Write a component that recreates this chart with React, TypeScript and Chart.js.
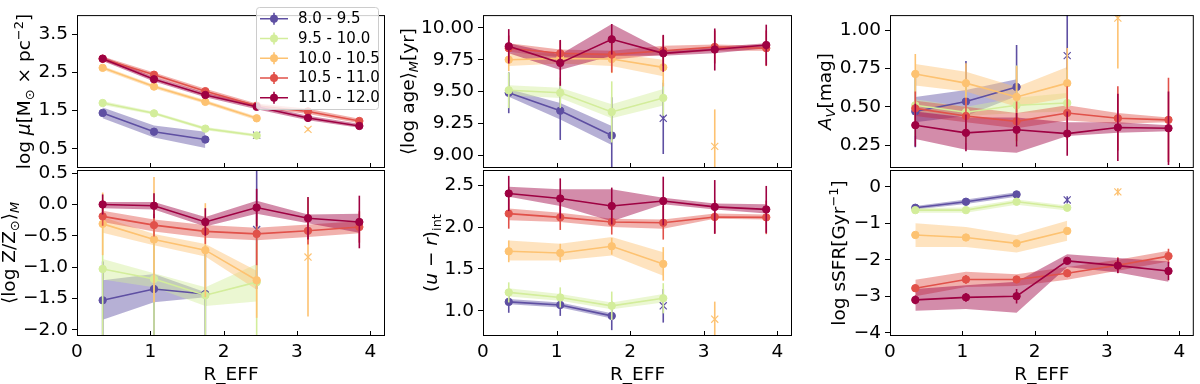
import React, { useEffect, useRef } from 'react';
import { Chart, registerables } from 'chart.js';

Chart.register(...registerables);

// ---------------- data ----------------
const R_BINS = [0.35, 1.05, 1.75, 2.45, 3.15, 3.85];
const X_TICKS = [0, 1, 2, 3, 4];
const MASS_BINS = ['8.0 - 9.5', '9.5 - 10.0', '10.0 - 10.5', '10.5 - 11.0', '11.0 - 12.0'];
const COLORS = ['#5e4fa2', '#d3ed9b', '#fdc271', '#e1514a', '#9e0142'];

// log mu
const muTicks = [0.5, 1.5, 2.5, 3.5];
const muVal = [
  [1.44, 0.95, 0.745],
  [1.70, 1.43, 1.03, 0.85],
  [2.62, 2.13, 1.73, 1.30],
  [2.86, 2.44, 2.01, 1.63, 1.48, 1.23],
  [2.86, 2.32, 1.91, 1.60, 1.31, 1.10],
];
const muErr = [
  [0.05, 0.05, 0.06],
  [0.04, 0.04, 0.04, 0.05],
  [0.04, 0.04, 0.04, 0.05],
  [0.04, 0.04, 0.04, 0.05, 0.06, 0.05],
  [0.04, 0.05, 0.05, 0.05, 0.05, 0.05],
];
const muLo = [
  [1.30, 0.80, 0.52],
  [1.65, 1.39, 0.99, 0.81],
  [2.57, 2.08, 1.68, 1.25],
  [2.80, 2.38, 1.95, 1.57, 1.41, 1.17],
  [2.80, 2.26, 1.85, 1.54, 1.25, 1.05],
];
const muHi = [
  [1.58, 1.11, 0.95],
  [1.75, 1.47, 1.07, 0.89],
  [2.67, 2.18, 1.78, 1.35],
  [2.92, 2.50, 2.07, 1.69, 1.55, 1.29],
  [2.92, 2.38, 1.97, 1.66, 1.37, 1.16],
];
const muOut = [[3, 0.86, 0.03], null, [4, 1.01, 0.05], null, null];

// <log age>
const ageTicks = [9.0, 9.25, 9.5, 9.75, 10.0];
const ageVal = [
  [9.49, 9.35, 9.155],
  [9.51, 9.49, 9.34, 9.45],
  [9.75, 9.76, 9.755, 9.69],
  [9.84, 9.80, 9.79, 9.82, 9.85, 9.84],
  [9.855, 9.725, 9.91, 9.80, 9.83, 9.865],
];
const ageErr = [
  [0.16, 0.23, 0.30],
  [0.14, 0.12, 0.24, 0.14],
  [0.09, 0.07, 0.11, 0.15],
  [0.10, 0.10, 0.14, 0.12, 0.13, 0.14],
  [0.135, 0.18, 0.12, 0.145, 0.165, 0.16],
];
const ageLo = [
  [9.46, 9.28, 9.08],
  [9.47, 9.45, 9.29, 9.39],
  [9.70, 9.72, 9.70, 9.62],
  [9.81, 9.77, 9.75, 9.79, 9.82, 9.82],
  [9.80, 9.67, 9.78, 9.78, 9.80, 9.84],
];
const ageHi = [
  [9.52, 9.41, 9.23],
  [9.55, 9.53, 9.40, 9.52],
  [9.80, 9.80, 9.80, 9.75],
  [9.88, 9.83, 9.82, 9.86, 9.87, 9.86],
  [9.88, 9.79, 10.03, 9.82, 9.85, 9.88],
];
const ageOut = [[3, 9.29, 0.28], null, [4, 9.07, 0.29], null, null];

// A_V
const avTicks = [0.25, 0.5, 0.75, 1.0];
const avVal = [
  [0.47, 0.535, 0.63],
  [0.51, 0.465, 0.51, 0.525],
  [0.715, 0.655, 0.565, 0.655],
  [0.49, 0.44, 0.405, 0.46, 0.425, 0.415],
  [0.38, 0.33, 0.35, 0.325, 0.365, 0.36],
];
const avErr = [
  [0.235, 0.265, 0.275],
  [0.20, 0.20, 0.26, 0.22],
  [0.13, 0.13, 0.20, 0.23],
  [0.11, 0.12, 0.13, 0.175, 0.21, 0.275],
  [0.14, 0.12, 0.11, 0.145, 0.22, 0.24],
];
const avLo = [
  [0.40, 0.44, 0.57],
  [0.47, 0.44, 0.46, 0.47],
  [0.64, 0.60, 0.50, 0.56],
  [0.44, 0.40, 0.36, 0.41, 0.39, 0.40],
  [0.29, 0.22, 0.20, 0.31, 0.33, 0.34],
];
const avHi = [
  [0.565, 0.61, 0.68],
  [0.55, 0.50, 0.56, 0.59],
  [0.78, 0.73, 0.63, 0.76],
  [0.54, 0.50, 0.46, 0.51, 0.46, 0.43],
  [0.47, 0.43, 0.43, 0.40, 0.40, 0.38],
];
const avOut = [[3, 0.835, 0.30], null, [4, 1.08, 0.33], null, null];

// <log Z/Zsun>
const zTicks = [-2.0, -1.5, -1.0, -0.5, 0.0, 0.5];
const zVal = [
  [-1.53, -1.35, -1.43],
  [-1.03, -1.19, -1.45, -1.24],
  [-0.31, -0.56, -0.73, -1.21],
  [-0.19, -0.33, -0.43, -0.47, -0.42, -0.36],
  [0.0, -0.02, -0.28, -0.05, -0.22, -0.28],
];
const zErr = [
  [0.62, 0.8, 0.7],
  [1.1, 1.0, 0.8, 1.0],
  [0.5, 1.0, 0.75, 0.6],
  [0.15, 0.18, 0.2, 0.5, 0.22, 0.25],
  [0.16, 0.2, 0.22, 0.3, 0.34, 0.42],
];
const zLo = [
  [-1.84, -1.56, -1.48],
  [-1.20, -1.32, -1.62, -1.55],
  [-0.45, -0.65, -0.83, -1.36],
  [-0.28, -0.43, -0.53, -0.57, -0.52, -0.46],
  [-0.06, -0.08, -0.35, -0.15, -0.30, -0.45],
];
const zHi = [
  [-1.21, -1.11, -1.40],
  [-0.87, -1.10, -1.32, -0.95],
  [-0.20, -0.47, -0.63, -1.06],
  [-0.10, -0.24, -0.33, -0.37, -0.32, -0.27],
  [0.04, 0.04, -0.20, 0.06, -0.16, -0.15],
];
const zOut = [[3, -0.40, 0.95], null, [4, -0.84, 0.95], null, null];

// (u - r)_int
const urTicks = [1.0, 1.5, 2.0, 2.5];
const urVal = [
  [1.107, 1.07, 0.94],
  [1.22, 1.16, 1.06, 1.15],
  [1.71, 1.69, 1.77, 1.56],
  [2.16, 2.115, 2.06, 2.05, 2.12, 2.115],
  [2.40, 2.34, 2.25, 2.31, 2.24, 2.21],
];
const urErr = [
  [0.13, 0.13, 0.17],
  [0.12, 0.12, 0.17, 0.18],
  [0.13, 0.11, 0.10, 0.2],
  [0.18, 0.15, 0.15, 0.2, 0.2, 0.2],
  [0.21, 0.24, 0.22, 0.29, 0.32, 0.28],
];
const urLo = [
  [1.08, 1.04, 0.91],
  [1.17, 1.12, 1.02, 1.10],
  [1.60, 1.60, 1.66, 1.42],
  [2.08, 2.06, 2.00, 1.98, 2.10, 2.09],
  [2.36, 2.25, 2.07, 2.27, 2.21, 2.16],
];
const urHi = [
  [1.14, 1.10, 0.97],
  [1.27, 1.20, 1.10, 1.20],
  [1.84, 1.80, 1.88, 1.70],
  [2.22, 2.17, 2.10, 2.09, 2.16, 2.15],
  [2.48, 2.45, 2.45, 2.35, 2.28, 2.27],
];
const urOut = [[3, 1.06, 0.2], null, [4, 0.90, 0.21], null, null];

// log sSFR
const sTicks = [-4, -3, -2, -1, 0];
const sVal = [
  [-0.575, -0.41, -0.21],
  [-0.64, -0.64, -0.41, -0.575],
  [-1.32, -1.39, -1.55, -1.21],
  [-2.78, -2.54, -2.54, -2.37, -2.15, -1.90],
  [-3.10, -3.03, -3.0, -2.03, -2.16, -2.31],
];
const sErr = [
  [0.03, 0.05, 0.05],
  [0.04, 0.04, 0.06, 0.05],
  [0.05, 0.05, 0.06, 0.06],
  [0.1, 0.12, 0.08, 0.1, 0.22, 0.2],
  [0.12, 0.12, 0.2, 0.08, 0.2, 0.25],
];
const sLo = [
  [-0.62, -0.47, -0.27],
  [-0.71, -0.71, -0.49, -0.65],
  [-1.65, -1.65, -1.80, -1.48],
  [-3.0, -2.75, -2.72, -2.55, -2.30, -2.05],
  [-3.40, -3.35, -3.45, -2.20, -2.35, -2.60],
];
const sHi = [
  [-0.53, -0.35, -0.15],
  [-0.58, -0.57, -0.35, -0.51],
  [-1.0, -1.10, -1.33, -0.93],
  [-2.55, -2.33, -2.40, -2.20, -2.00, -1.75],
  [-2.80, -2.70, -2.60, -1.85, -1.95, -2.05],
];
const sOut = [[3, -0.36, 0.1], null, [4, -0.14, 0.1], null, null];

// ---------------- layout / style ----------------
const FONT = "'DejaVu Sans', 'Liberation Sans', sans-serif";
const TICK_SIZE = 18.5;
const TITLE_SIZE = 18.5;
const LEGEND_SIZE = 15;
const W = 1200;
const H = 384;

type Seg = { t: string; i?: boolean; sub?: boolean; sup?: boolean };

const PANELS = [
  {
    val: muVal, err: muErr, lo: muLo, hi: muHi, out: muOut, ticks: muTicks, dec: 1,
    yMin: 0, yMax: 4, left: 77, right: 385, top: 1, bottom: 168, titleX: 24, xLabels: false, legend: true,
    title: [{ t: 'log ' }, { t: 'μ', i: true }, { t: '[M' }, { t: '⊙', sub: true }, { t: ' × pc' }, { t: '−2', sup: true }, { t: ']' }] as Seg[],
  },
  {
    val: ageVal, err: ageErr, lo: ageLo, hi: ageHi, out: ageOut, ticks: ageTicks, dec: 2,
    yMin: 8.9, yMax: 10.1, left: 483, right: 792, top: 1, bottom: 168, titleX: 408, xLabels: false, legend: false,
    title: [{ t: '⟨log age⟩' }, { t: 'M', i: true, sub: true }, { t: '[yr]' }] as Seg[],
  },
  {
    val: avVal, err: avErr, lo: avLo, hi: avHi, out: avOut, ticks: avTicks, dec: 2,
    yMin: 0.1, yMax: 1.1, left: 890, right: 1197, top: 1, bottom: 168, titleX: 825, xLabels: false, legend: false,
    title: [{ t: 'A', i: true }, { t: 'V', i: true, sub: true }, { t: '[mag]' }] as Seg[],
  },
  {
    val: zVal, err: zErr, lo: zLo, hi: zHi, out: zOut, ticks: zTicks, dec: 1,
    yMin: -2.1, yMax: 0.55, left: 77, right: 385, top: 170, bottom: 336, titleX: 9, xLabels: true, legend: false,
    title: [{ t: '⟨log Z/Z' }, { t: '⊙', sub: true }, { t: '⟩' }, { t: 'M', i: true, sub: true }] as Seg[],
  },
  {
    val: urVal, err: urErr, lo: urLo, hi: urHi, out: urOut, ticks: urTicks, dec: 1,
    yMin: 0.7, yMax: 2.68, left: 483, right: 792, top: 170, bottom: 336, titleX: 431, xLabels: true, legend: false,
    title: [{ t: '(' }, { t: 'u', i: true }, { t: ' − ' }, { t: 'r', i: true }, { t: ')' }, { t: 'int', sub: true }] as Seg[],
  },
  {
    val: sVal, err: sErr, lo: sLo, hi: sHi, out: sOut, ticks: sTicks, dec: 0,
    yMin: -4.09, yMax: 0.46, left: 890, right: 1197, top: 170, bottom: 336, titleX: 839, xLabels: true, legend: false,
    title: [{ t: 'log sSFR[Gyr' }, { t: '−1', sup: true }, { t: ']' }] as Seg[],
  },
];

function rgba(hex: string, a: number) {
  const n = parseInt(hex.slice(1), 16);
  return `rgba(${(n >> 16) & 255},${(n >> 8) & 255},${n & 255},${a})`;
}

function fmt(v: number, d: number) {
  const s = Math.abs(v).toFixed(d);
  return (v < -1e-9 ? '\u2212' : '') + s;
}

function drawRich(ctx: CanvasRenderingContext2D, segs: Seg[], x: number, y: number, size: number) {
  ctx.save();
  ctx.translate(x, y);
  ctx.rotate(-Math.PI / 2);
  ctx.fillStyle = '#000';
  ctx.textBaseline = 'alphabetic';
  ctx.textAlign = 'left';
  const parts = segs.map((s) => {
    const sz = s.sub || s.sup ? size * 0.7 : size;
    const font = `${s.i ? 'italic ' : ''}${sz}px ${FONT}`;
    ctx.font = font;
    const w = ctx.measureText(s.t).width;
    const dy = s.sub ? size * 0.22 : s.sup ? -size * 0.4 : 0;
    return { s, font, w, dy };
  });
  const total = parts.reduce((a, p) => a + p.w, 0);
  let cx = -total / 2;
  const base = size * 0.32;
  for (const p of parts) {
    ctx.font = p.font;
    ctx.fillText(p.s.t, cx, base + p.dy);
    cx += p.w;
  }
  ctx.restore();
}

const errorBarPlugin = {
  id: 'errorBars',
  beforeDatasetDraw(chart: any, args: any) {
    const ds = chart.data.datasets[args.index];
    if (!ds.errorBars) return;
    const { ctx, chartArea, scales } = chart;
    ctx.save();
    ctx.beginPath();
    ctx.rect(chartArea.left, chartArea.top, chartArea.right - chartArea.left, chartArea.bottom - chartArea.top);
    ctx.clip();
    ctx.strokeStyle = ds.borderColor;
    ctx.lineWidth = 1.6;
    ds.data.forEach((p: any, i: number) => {
      const e = ds.errorBars[i];
      const x = scales.x.getPixelForValue(p.x);
      ctx.beginPath();
      ctx.moveTo(x, scales.y.getPixelForValue(p.y - e));
      ctx.lineTo(x, scales.y.getPixelForValue(p.y + e));
      ctx.stroke();
    });
    ctx.restore();
  },
};

function makeDecoPlugin(cfg: any) {
  return {
    id: 'deco',
    afterDraw(chart: any) {
      const { ctx, chartArea: ca, scales } = chart;
      ctx.save();
      // frame
      ctx.strokeStyle = '#000';
      ctx.lineWidth = 1;
      ctx.strokeRect(ca.left + 0.5, ca.top + 0.5, ca.right - ca.left - 1, ca.bottom - ca.top - 1);
      // inward x ticks
      ctx.beginPath();
      X_TICKS.forEach((v) => {
        const x = Math.round(scales.x.getPixelForValue(v)) + 0.5;
        ctx.moveTo(x, ca.bottom);
        ctx.lineTo(x, ca.bottom - 5);
      });
      ctx.stroke();
      // y title
      drawRich(ctx, cfg.title, cfg.titleX, (ca.top + ca.bottom) / 2, TITLE_SIZE);
      // x title
      if (cfg.xLabels) {
        ctx.fillStyle = '#000';
        ctx.font = `${TITLE_SIZE}px ${FONT}`;
        ctx.textAlign = 'center';
        ctx.textBaseline = 'middle';
        ctx.fillText('R_EFF', (ca.left + ca.right) / 2, 375);
      }
      // legend
      if (cfg.legend) {
        const lx = 256.5, ly = 7.5, lw = 122, lh = 102, r = 3;
        ctx.beginPath();
        ctx.moveTo(lx + r, ly);
        ctx.arcTo(lx + lw, ly, lx + lw, ly + lh, r);
        ctx.arcTo(lx + lw, ly + lh, lx, ly + lh, r);
        ctx.arcTo(lx, ly + lh, lx, ly, r);
        ctx.arcTo(lx, ly, lx + lw, ly, r);
        ctx.closePath();
        ctx.fillStyle = 'rgba(255,255,255,0.8)';
        ctx.fill();
        ctx.strokeStyle = '#cccccc';
        ctx.lineWidth = 1;
        ctx.stroke();
        MASS_BINS.forEach((lab, s) => {
          const y = 18.8 + s * 19.75;
          const col = COLORS[s];
          ctx.strokeStyle = col;
          ctx.lineWidth = 1.6;
          ctx.beginPath();
          ctx.moveTo(260, y);
          ctx.lineTo(288, y);
          ctx.moveTo(274, y - 6);
          ctx.lineTo(274, y + 6);
          ctx.stroke();
          ctx.fillStyle = col;
          ctx.beginPath();
          ctx.arc(274, y, 4, 0, Math.PI * 2);
          ctx.fill();
          ctx.fillStyle = '#000';
          ctx.font = `${LEGEND_SIZE}px ${FONT}`;
          ctx.textAlign = 'left';
          ctx.textBaseline = 'middle';
          ctx.fillText(lab, 298, y + 0.5);
        });
      }
      ctx.restore();
    },
  };
}

function buildConfig(cfg: any): any {
  const datasets: any[] = [];
  cfg.val.forEach((vals: number[], s: number) => {
    const col = COLORS[s];
    datasets.push({
      label: '_lo' + s,
      data: cfg.lo[s].map((v: number, i: number) => ({ x: R_BINS[i], y: v })),
      borderWidth: 0, borderColor: 'transparent', pointRadius: 0, fill: false, order: 200 - 2 * s,
    });
    datasets.push({
      label: '_hi' + s,
      data: cfg.hi[s].map((v: number, i: number) => ({ x: R_BINS[i], y: v })),
      borderWidth: 0, borderColor: 'transparent', pointRadius: 0, fill: '-1',
      backgroundColor: rgba(col, 0.45), order: 199 - 2 * s,
    });
  });
  cfg.val.forEach((vals: number[], s: number) => {
    const col = COLORS[s];
    datasets.push({
      label: MASS_BINS[s],
      data: vals.map((v, i) => ({ x: R_BINS[i], y: v })),
      borderColor: col, backgroundColor: col, borderWidth: 1.6,
      pointRadius: 3.7, pointBorderWidth: 1, pointBackgroundColor: col, pointBorderColor: col,
      fill: false, tension: 0, order: 50 - 2 * s, errorBars: cfg.err[s],
    });
    const o = cfg.out[s];
    if (o) {
      datasets.push({
        label: '_out' + s,
        data: [{ x: R_BINS[o[0]], y: o[1] }],
        showLine: false, pointStyle: 'crossRot', pointRadius: 5, pointBorderWidth: 1.2,
        pointBorderColor: col, pointBackgroundColor: col, borderColor: col, backgroundColor: col,
        fill: false, order: 49 - 2 * s, errorBars: [o[2]],
      });
    }
  });

  return {
    type: 'line',
    data: { datasets },
    plugins: [errorBarPlugin, makeDecoPlugin(cfg)],
    options: {
      responsive: false,
      animation: false,
      devicePixelRatio: 1,
      events: [],
      layout: {
        padding: {
          left: 0,
          top: cfg.top,
          right: W - cfg.right,
          bottom: cfg.xLabels ? 0 : H - cfg.bottom,
        },
      },
      plugins: { legend: { display: false }, tooltip: { enabled: false } },
      scales: {
        x: {
          type: 'linear',
          position: 'bottom',
          min: 0,
          max: 4.2,
          afterFit: (s: any) => { s.height = cfg.xLabels ? H - cfg.bottom : 0; },
          afterBuildTicks: (s: any) => { s.ticks = X_TICKS.map((v) => ({ value: v })); },
          grid: { display: false, drawTicks: false },
          border: { display: false },
          ticks: {
            display: cfg.xLabels,
            autoSkip: false,
            maxRotation: 0,
            padding: 5,
            color: '#000',
            font: { family: FONT, size: TICK_SIZE },
            callback: (v: any) => String(v),
          },
        },
        y: {
          type: 'linear',
          position: 'left',
          min: cfg.yMin,
          max: cfg.yMax,
          afterFit: (s: any) => { s.width = cfg.left; },
          afterBuildTicks: (s: any) => { s.ticks = cfg.ticks.map((v: number) => ({ value: v })); },
          grid: { drawOnChartArea: false, drawTicks: true, tickLength: 5, color: '#000', lineWidth: 1 },
          border: { display: false },
          ticks: {
            autoSkip: false,
            padding: 4,
            color: '#000',
            font: { family: FONT, size: TICK_SIZE },
            callback: (v: any) => fmt(Number(v), cfg.dec),
          },
        },
      },
    },
  };
}

function Panel({ cfg }: { cfg: any }) {
  const ref = useRef<HTMLCanvasElement>(null);
  useEffect(() => {
    const chart = new Chart(ref.current as HTMLCanvasElement, buildConfig(cfg));
    return () => chart.destroy();
  }, [cfg]);
  return (
    <canvas
      ref={ref}
      width={W}
      height={H}
      style={{ position: 'absolute', left: 0, top: 0, width: W, height: H }}
    />
  );
}

export default function App() {
  return (
    <div style={{ position: 'fixed', left: 0, top: 0, width: W, height: H, background: '#fff', overflow: 'hidden' }}>
      {PANELS.map((p, i) => (
        <Panel key={i} cfg={p} />
      ))}
    </div>
  );
}
